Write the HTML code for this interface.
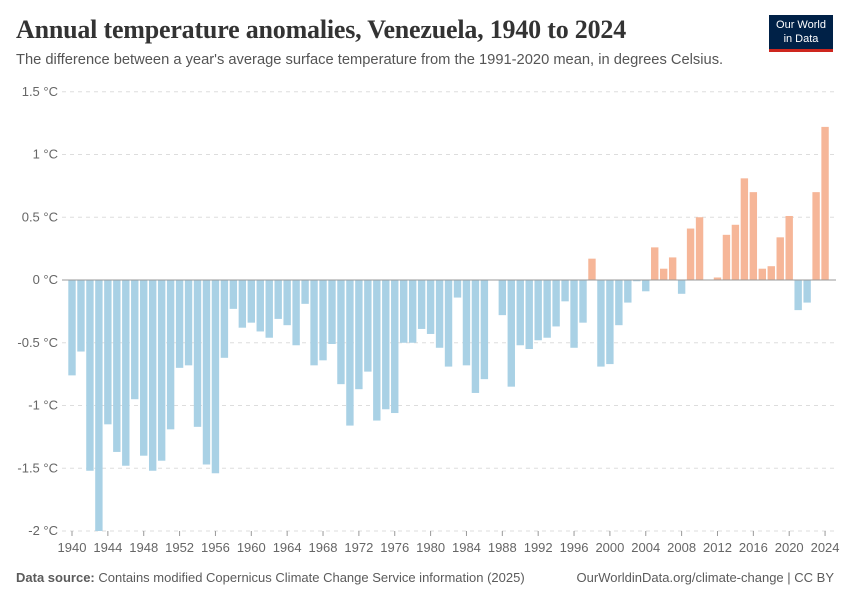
<!DOCTYPE html>
<html><head><meta charset="utf-8"><style>
body{margin:0;background:#fff;font-family:"Liberation Sans",sans-serif;}
#wrap{position:relative;width:850px;height:600px;overflow:hidden;}
.t{position:absolute;white-space:nowrap;}
</style></head><body>
<div id="wrap">
<div class="t" style="left:16px;top:15px;font-family:'Liberation Serif',serif;font-size:26px;font-weight:bold;color:#333;letter-spacing:-0.2px;">Annual temperature anomalies, Venezuela, 1940 to 2024</div>
<div class="t" style="left:16px;top:52px;font-size:14.7px;color:#555;">The difference between a year's average surface temperature from the 1991-2020 mean, in degrees Celsius.</div>
<div style="position:absolute;left:769px;top:15px;width:64px;height:37px;background:#002147;border-bottom:3px solid #ce261e;color:#fff;font-size:11px;line-height:14px;text-align:center;padding-top:3px;box-sizing:border-box;">Our World<br>in Data</div>
<svg id="chart" width="850" height="600" style="position:absolute;left:0;top:0;"></svg>
<div class="t" style="left:16px;top:570px;font-size:13px;color:#5b5b5b;"><b>Data source:</b> Contains modified Copernicus Climate Change Service information (2025)</div>
<div class="t" style="right:16px;top:570px;font-size:13px;color:#5b5b5b;">OurWorldinData.org/climate-change | CC BY</div>
</div>
<script>
const years=[];for(let y=1940;y<=2024;y++)years.push(y);
const anomalies=[-0.76,-0.57,-1.52,-2.0,-1.15,-1.37,-1.48,-0.95,-1.40,-1.52,-1.44,-1.19,-0.70,-0.68,-1.17,-1.47,-1.54,-0.62,-0.23,-0.38,-0.34,-0.41,-0.46,-0.31,-0.36,-0.52,-0.19,-0.68,-0.64,-0.51,-0.83,-1.16,-0.87,-0.73,-1.12,-1.03,-1.06,-0.50,-0.50,-0.39,-0.43,-0.54,-0.69,-0.14,-0.68,-0.90,-0.79,0,-0.28,-0.85,-0.52,-0.55,-0.48,-0.46,-0.37,-0.17,-0.54,-0.34,0.17,-0.69,-0.67,-0.36,-0.18,-0.01,-0.09,0.26,0.09,0.18,-0.11,0.41,0.50,0,0.02,0.36,0.44,0.81,0.70,0.09,0.11,0.34,0.51,-0.24,-0.18,0.70,1.22];
const yTicks=[1.5,1,0.5,0,-0.5,-1,-1.5,-2];
const yTickLabels=["1.5 °C","1 °C","0.5 °C","0 °C","-0.5 °C","-1 °C","-1.5 °C","-2 °C"];
const xTicks=[1940,1944,1948,1952,1956,1960,1964,1968,1972,1976,1980,1984,1988,1992,1996,2000,2004,2008,2012,2016,2020,2024];
const svg=document.getElementById('chart');const NS='http://www.w3.org/2000/svg';
const yS=v=>280-v*125.5;const xS=y=>72+(y-1940)*8.965;
function mk(t,a){const e=document.createElementNS(NS,t);for(const k in a)e.setAttribute(k,a[k]);svg.appendChild(e);return e;}
yTicks.forEach((v,i)=>{
 if(v!==0){const g=mk('line',{x1:62,x2:836,y1:yS(v),y2:yS(v),stroke:'#ddd','stroke-dasharray':'4,4'});
 
 }
 const t=mk('text',{x:58,y:yS(v)+4,'text-anchor':'end','font-size':13,fill:'#666','font-family':'Liberation Sans,sans-serif'});
 t.textContent=yTickLabels[i];
 
 
});
years.forEach((y,i)=>{const v=anomalies[i];if(v===0)return;
 const r=mk('rect',{x:xS(y)-3.7,width:7.4,y:Math.min(yS(v),yS(0)),height:Math.abs(yS(v)-yS(0)),fill:v>0?'#f6b698':'#a9d1e5'});
 
 
});
const z=mk('line',{x1:62,x2:836,y1:yS(0),y2:yS(0),stroke:'#999'});


xTicks.forEach(y=>{
 const tk=mk('line',{x1:xS(y),x2:xS(y),y1:yS(-2),y2:yS(-2)+5,stroke:'#999'});
 
 
 const t=mk('text',{x:xS(y),y:552,'text-anchor':'middle','font-size':13,fill:'#666','font-family':'Liberation Sans,sans-serif'});
 t.textContent=y;
 
 
});
</script>
</body></html>
